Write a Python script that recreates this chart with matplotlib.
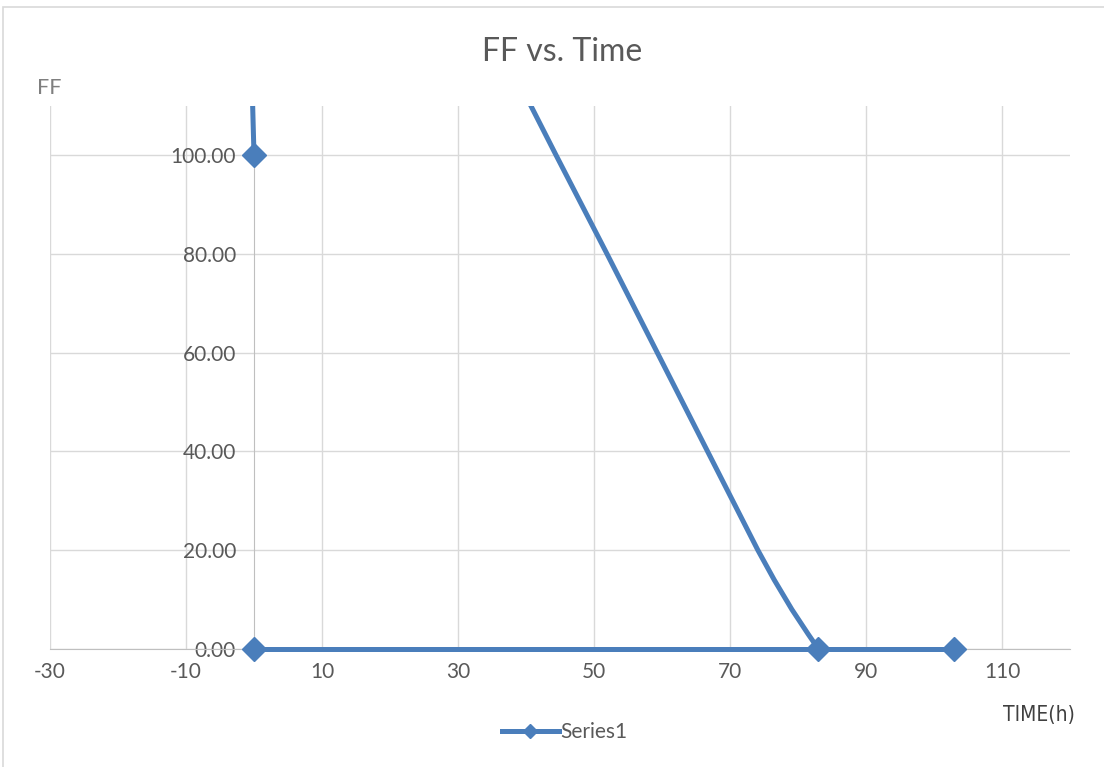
#####################
# FF vs. Time chart #
#####################
import matplotlib
matplotlib.use('Agg')
import matplotlib.pyplot as plt
from matplotlib.lines import Line2D
from matplotlib.patches import Rectangle

plt.rcParams['font.family'] = ['Lato', 'DejaVu Sans']
plt.rcParams['axes.unicode_minus'] = False

# data points (markers)
time_h = [0, 0, 83, 103]
ff = [100, 0, 0, 0]

# smoothed line as drawn in the original
# (it runs off the top of the plot between t=0 and t=40)
curve_t = [0, -0.2, -0.5, 6, 20, 36.9, 40.7, 44.4, 51.9, 59.3, 66.7, 70.4, 74.1,
           76.5, 79.1, 81.5, 83]
curve_ff = [100, 110, 125, 200, 190, 120, 110, 100, 80, 60, 40, 30, 20,
            14, 8, 3, 0]

# baseline part of the line
base_t = [0, 83, 103]
base_ff = [0, 0, 0]

x_ticks = [-30, -10, 10, 30, 50, 70, 90, 110]
y_ticks = [0, 20, 40, 60, 80, 100]

blue = '#4a7ebb'
grid = '#d9d9d9'
txt = '#595959'

fig = plt.figure(figsize=(11.04, 7.67), dpi=100)
ax = fig.add_axes([50 / 1104, 118 / 767, 1020 / 1104, 543.5 / 767])

ax.set_xlim(-30, 120)
ax.set_ylim(0, 110)
ax.set_xticks(x_ticks)
ax.set_yticks(y_ticks)
ax.set_yticklabels(['%.2f' % v for v in y_ticks])

for x in x_ticks:
    ax.axvline(x, color=grid, lw=1, zorder=0)
for y in y_ticks:
    ax.axhline(y, color=grid, lw=1, zorder=0)

for s in ['top', 'right']:
    ax.spines[s].set_visible(False)
ax.spines['left'].set_position(('data', 0))
ax.spines['left'].set_color('#bfbfbf')
ax.spines['bottom'].set_color('#bfbfbf')
ax.tick_params(length=0, labelsize=15, labelcolor=txt)
ax.tick_params(axis='y', pad=13)
ax.tick_params(axis='x', pad=9)

# series
ax.plot(curve_t, curve_ff, color=blue, lw=3.6, solid_capstyle='butt',
        solid_joinstyle='round', zorder=3)
ax.plot(base_t, base_ff, color=blue, lw=3.6, solid_capstyle='butt', zorder=3,
        clip_on=False)
ax.plot(time_h, ff, ls='none', marker='D', ms=12, color=blue, zorder=4, clip_on=False)

# titles and axis names
fig.text(562 / 1104, 1 - 52 / 767, 'FF vs. Time', ha='center', va='center',
         fontsize=23, color=txt)
fig.text(37 / 1104, 1 - 88 / 767, 'FF', ha='left', va='center',
         fontsize=15.5, color='#7f7f7f')
fig.text(1039 / 1104, 1 - 715 / 767, 'TIME(h)', ha='center', va='center',
         fontsize=15, color='#404040', family='DejaVu Sans', stretch='condensed')

# legend
handle = Line2D([], [], color=blue, lw=3.6, marker='D', ms=7)
fig.legend([handle], ['Series1'], loc='center', bbox_to_anchor=(565 / 1104, 35 / 767),
           frameon=False, fontsize=15, labelcolor=txt, handlelength=2.7,
           handletextpad=0.1)

# chart border
fig.patches.append(Rectangle((3 / 1104, -0.1), 1.2, 1.1 - 7 / 767, fill=False,
                             edgecolor=grid, lw=1.2, transform=fig.transFigure))

plt.savefig('out.png', dpi=100)
